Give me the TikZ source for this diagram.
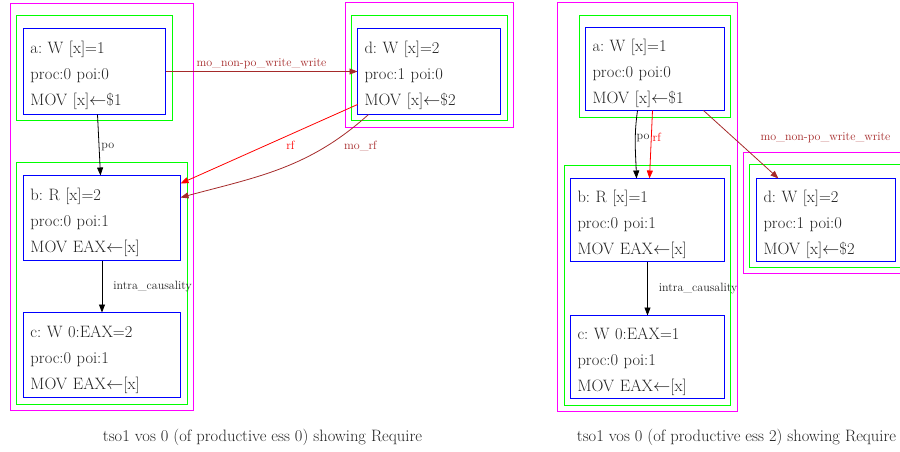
\documentclass[tikz,border=0pt]{standalone}
\usetikzlibrary{arrows.meta}
\definecolor{brownE}{HTML}{A52A2A}
\definecolor{magE}{HTML}{FF00FF}
\definecolor{greenE}{HTML}{00FF00}
\definecolor{blueE}{HTML}{0000FF}
\definecolor{redE}{HTML}{FF0000}
\definecolor{txt}{HTML}{222222}
\newcommand{\fstrut}{\rule{0pt}{20.5pt}}
\begin{document}
\frenchspacing
\begin{tikzpicture}[x=1pt,y=-1pt,
  evt/.style={draw=blueE, line width=1pt, inner xsep=7pt, inner ysep=0pt, outer sep=0pt,
    align=left, font=\fontsize{16.5}{26}\selectfont\frenchspacing, text=txt},
  clusg/.style={draw=greenE, line width=1pt},
  clusm/.style={draw=magE, line width=1pt},
  conn/.style={line width=0.8pt, -{Triangle[length=8pt,width=6pt]}},
  lab/.style={font=\fontsize{12}{14}\selectfont, inner sep=1pt},
  captxt/.style={font=\fontsize{16.5}{18}\selectfont, text=txt}
]
\useasboundingbox (0,0) rectangle (900,451);
\clip (0,0) rectangle (900,451);
\begin{scope}[shift={(0.5,0.5)}]
% ---------- left picture ----------
\draw[clusm] (10,3) rectangle (193,410);
\draw[clusg] (16,15) rectangle (172,120);
\draw[clusg] (16,162) rectangle (187,404);
\draw[clusm] (345,2) rectangle (513,127);
\draw[clusg] (351,15) rectangle (507,120);
\node[evt, text width=128pt, minimum height=86pt] (a) at (94,71)
  {\fstrut a: W [x]=1\\proc:0 poi:0\\MOV [x]$\leftarrow$\$1};
\node[evt, text width=143pt, minimum height=85pt] (b) at (101.5,217.5)
  {\fstrut b: R [x]=2\\proc:0 poi:1\\MOV EAX$\leftarrow$[x]};
\node[evt, text width=143pt, minimum height=85pt] (c) at (101.5,354.5)
  {\fstrut c: W 0:EAX=2\\proc:0 poi:1\\MOV EAX$\leftarrow$[x]};
\node[evt, text width=129pt, minimum height=86pt] (d) at (428.5,71)
  {\fstrut d: W [x]=2\\proc:1 poi:0\\MOV [x]$\leftarrow$\$2};
\draw[conn, brownE] (a.east) -- (d.west)
  node[lab, text=brownE, pos=0.5, above=1pt] {mo\_non-po\_write\_write};
\draw[conn, black] ([xshift=3pt]a.south) -- ([xshift=-1.5pt]b.north)
  node[lab, text=txt, anchor=west, pos=0.5, xshift=1pt, yshift=-2pt] {po};
\draw[conn, redE] ([yshift=-33pt]d.west) -- ([yshift=-8pt]b.north east);
\node[lab, text=redE] (rfl) at (290,145) {rf};
\draw[conn, brownE] ([xshift=11pt]d.south west) to[out=222, in=15] ([yshift=-22pt]b.north east);
\node[lab, text=brownE] (morfl) at (360,146) {mo\_rf};
\draw[conn, black] (b.south) -- (c.north)
  node[lab, text=txt, anchor=west, pos=0.5, xshift=10pt] {intra\_causality};
\node[captxt] (cap1) at (262,437) {tso1 vos 0 (of productive ess 0) showing Require};
% ---------- right picture ----------
\draw[clusm] (557,2) rectangle (737,411);
\draw[clusg] (579,15) rectangle (730,117);
\draw[clusg] (564,165) rectangle (730,405);
\draw[clusm] (743,152) rectangle (920,273);
\draw[clusg] (749,164) rectangle (915,267);
\node[evt, text width=125pt, minimum height=83pt] (a2) at (654.5,68.5)
  {\fstrut a: W [x]=1\\proc:0 poi:0\\MOV [x]$\leftarrow$\$1};
\node[evt, text width=140pt, minimum height=83pt] (b2) at (647,219.5)
  {\fstrut b: R [x]=1\\proc:0 poi:1\\MOV EAX$\leftarrow$[x]};
\node[evt, text width=140pt, minimum height=83pt] (c2) at (647,356.5)
  {\fstrut c: W 0:EAX=1\\proc:0 poi:1\\MOV EAX$\leftarrow$[x]};
\node[evt, text width=125pt, minimum height=83pt] (d2) at (825.5,219.5)
  {\fstrut d: W [x]=2\\proc:1 poi:0\\MOV [x]$\leftarrow$\$2};
\draw[conn, brownE] ([xshift=-21pt]a2.south east) -- ([xshift=22pt]d2.north west);
\node[lab, text=brownE] (mol2) at (825,137) {mo\_non-po\_write\_write};
\draw[conn, black] ([xshift=-17.5pt]a2.south) to[out=262, in=92] ([xshift=-11pt]b2.north);
\draw[conn, redE] ([xshift=-2.5pt]a2.south) -- ([xshift=2pt]b2.north);
\node[lab, text=txt, anchor=west, inner sep=0pt] (pol2) at (636,137) {po};
\node[lab, text=redE, anchor=west, inner sep=0pt] (rfl2) at (652,137) {rf};
\draw[conn, black] (b2.south) -- (c2.north)
  node[lab, text=txt, anchor=west, pos=0.5, xshift=10pt] {intra\_causality};
\node[captxt] (cap2) at (736,437) {tso1 vos 0 (of productive ess 2) showing Require};
\end{scope}
\end{tikzpicture}
\end{document}
